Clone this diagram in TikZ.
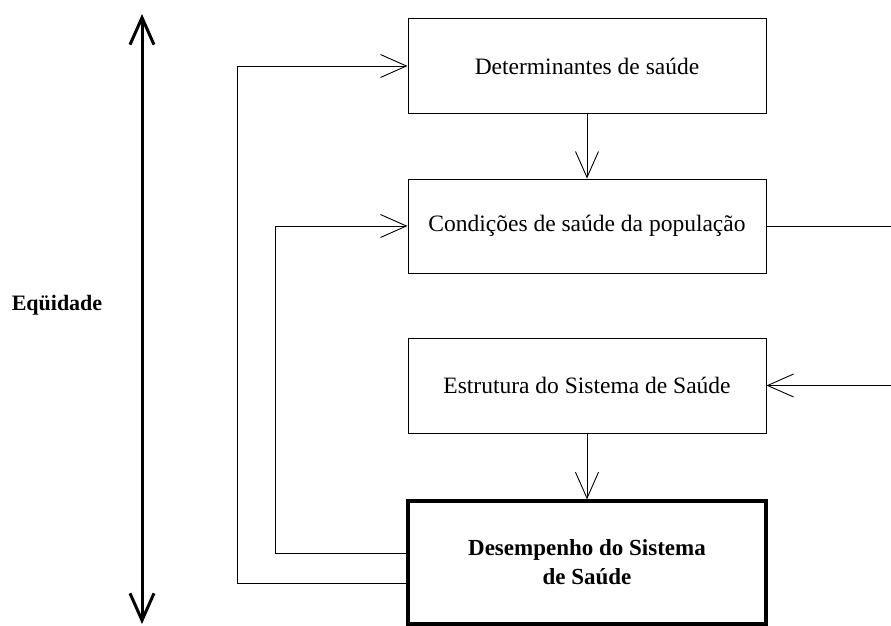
\documentclass[tikz,border=0pt]{standalone}
\usepackage{fontspec}
\setmainfont{Liberation Serif}
\usetikzlibrary{arrows.meta}

\tikzset{
  box/.style={draw,line width=0.9pt,minimum width=358pt,minimum height=95pt,inner sep=0pt,
    font=\fontsize{23.5}{28}\selectfont},
  link/.style={line width=0.9pt,-{Straight Barb[length=26pt,width=23pt]}},
  plain/.style={line width=0.9pt},
}

\begin{document}
\begin{tikzpicture}[x=1pt,y=-1pt]

\useasboundingbox (0,0) rectangle (891,626);

\node [box] (det) at (587,66) {Determinantes de saúde};
\node [box,minimum height=94pt] (cond) at (587,226) {Condições de saúde da população};
\node [box] (estr) at (587,385.5) {Estrutura do Sistema de Saúde};
\node [box,line width=3.3pt,minimum height=123pt,align=center,font=\fontsize{23}{29}\bfseries]
  (desemp) at (587,562.5) {Desempenho do Sistema\\de Saúde};

\node [font=\fontsize{22}{26}\bfseries] (eq) at (57,305) {Eqüidade};

\coordinate (eqtop) at (142,14);
\coordinate (eqbot) at (142,624);
\draw [line width=3pt,{Straight Barb[length=27pt,width=24pt]}-{Straight Barb[length=27pt,width=24pt]}] (eqtop) -- (eqbot);

% arrows down the middle
\draw [link] (det) -- (cond);
\draw [link] (estr) -- (desemp);

% feedback loops on the left
\coordinate (outer) at (237,583);
\coordinate (inner) at (275,553);
\draw [plain] (desemp.west |- outer) -- (outer);
\draw [link] (outer) |- (det.west);
\draw [plain] (desemp.west |- inner) -- (inner);
\draw [link] (inner) |- (cond.west);

% loop on the right
\coordinate (rtop) at (891,226);
\coordinate (rbot) at (891,385.5);
\draw [plain] (cond.east) -- (rtop);
\draw [link] (rbot) -- (estr.east);

\end{tikzpicture}
\end{document}
